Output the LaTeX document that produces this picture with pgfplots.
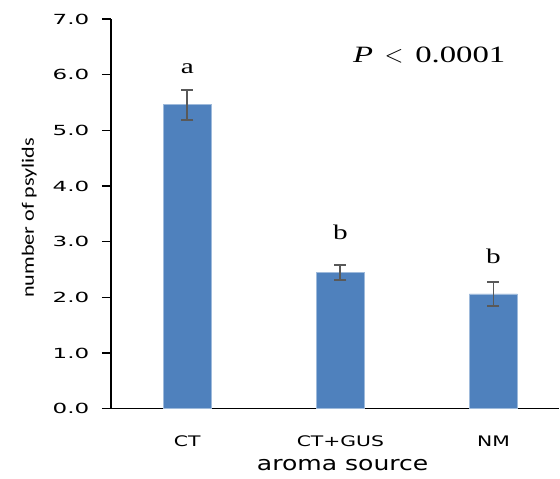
\documentclass[border=0pt]{standalone}
\usepackage{pgfplots}
\pgfplotsset{compat=1.18}
\usepackage{fontspec}
\setmainfont[FakeStretch=1.65]{DejaVu Sans}
\newfontfamily\xtfont[FakeStretch=1.4]{DejaVu Sans}
\newfontfamily\xlfont[FakeStretch=1.26]{DejaVu Sans}
\newfontfamily\labfont[FakeStretch=1.27]{Carlito}
\newfontfamily\serfont[FakeStretch=1.4]{Liberation Serif}
\definecolor{barblue}{HTML}{4F81BD}
\definecolor{errgray}{HTML}{595959}
\begin{document}
\begin{tikzpicture}
\begin{axis}[
  scale only axis, width=449bp, height=390bp,
  xmin=-0.5, xmax=2.43, ymin=0, ymax=7,
  clip=false,
  axis x line=bottom, axis y line=left,
  axis line style={-, line width=1.5bp, black},
  xtick={0,1,2}, xticklabels={CT,CT+GUS,NM},
  major x tick style={draw=none},
  ytick={0,1,...,7},
  tick align=outside, major tick length=9bp,
  major y tick style={line width=1.5bp, black},
  yticklabel style={font=\fontsize{14}{16}\selectfont, xshift=-9bp, /pgf/number format/.cd, fixed, fixed zerofill, precision=1, assume math mode=true},
  xticklabel style={font=\xtfont\fontsize{14.6}{17}\selectfont, yshift=-15bp},
  xlabel={aroma source},
  xlabel style={font=\xlfont\fontsize{20}{23}\selectfont, at={(rel axis cs:0.517,-0.146)}, anchor=center},
  ylabel={number of psylids},
  ylabel style={font=\labfont\fontsize{17.5}{20}\selectfont, at={(rel axis cs:-0.182,0.49)}, anchor=center},
]
\addplot[ybar, bar width=0.314, fill=barblue, draw=barblue!55!white, line width=0.6bp,
  error bars/.cd, y dir=both, y explicit,
  error bar style={errgray, line width=1.8bp},
  error mark options={rotate=90, errgray, line width=1.8bp, mark size=6bp}]
  coordinates {(0,5.46) +- (0,0.27) (1,2.45) +- (0,0.135) (2,2.06) +- (0,0.22)};
\node[font=\serfont\fontsize{21}{24}\selectfont] at (axis cs:0,6.1) {a};
\node[font=\serfont\fontsize{21}{24}\selectfont] at (axis cs:1,3.16) {b};
\node[font=\serfont\fontsize{21}{24}\selectfont] at (axis cs:2,2.73) {b};
\node[font=\serfont\fontsize{23.5}{27}\selectfont] at (axis cs:1.58,6.36) {\textit{P}\enspace{\fontsize{27}{30}\selectfont$<$}\enspace0.0001};
\path (rel axis cs:-0.247,-0.18) rectangle (rel axis cs:1,1.049);
\end{axis}
\end{tikzpicture}
\end{document}
